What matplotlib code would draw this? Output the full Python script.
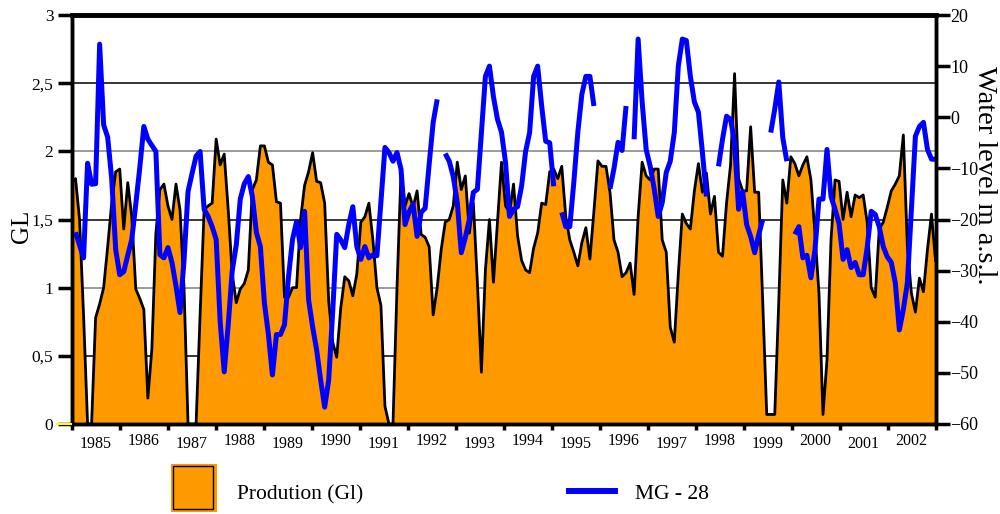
import numpy as np
import matplotlib.pyplot as plt
import matplotlib.transforms as mtransforms
from matplotlib.patches import Rectangle
from matplotlib.lines import Line2D

plt.rcParams['font.family'] = ['Liberation Serif', 'DejaVu Serif']

# monthly production (GL), Jan 1985 - Dec 2002
years = list(range(1985, 2003))
production = [
    1.77, 1.80, 1.50, 0.80, 0.00, 0.00, 0.78, 0.88, 1.00, 1.30, 1.62, 1.85,  # 1985
    1.87, 1.43, 1.77, 1.52, 0.99, 0.92, 0.84, 0.19, 0.55, 1.40, 1.72, 1.76,  # 1986
    1.60, 1.50, 1.76, 1.57, 1.00, 0.00, 0.00, 0.00, 0.80, 1.57, 1.60, 1.62,  # 1987
    2.09, 1.90, 1.98, 1.57, 1.10, 0.89, 0.99, 1.03, 1.13, 1.72, 1.79, 2.04,  # 1988
    2.04, 1.92, 1.90, 1.63, 1.62, 0.93, 0.93, 1.00, 1.00, 1.50, 1.75, 1.85,  # 1989
    1.99, 1.78, 1.77, 1.62, 0.90, 0.60, 0.49, 0.85, 1.08, 1.05, 0.94, 1.10,  # 1990
    1.48, 1.52, 1.62, 1.35, 1.00, 0.87, 0.13, 0.00, 0.00, 1.00, 1.85, 1.60,  # 1991
    1.69, 1.59, 1.71, 1.39, 1.37, 1.30, 0.80, 1.00, 1.28, 1.48, 1.50, 1.60,  # 1992
    1.92, 1.72, 1.82, 1.40, 1.62, 1.04, 0.38, 1.13, 1.50, 1.04, 1.48, 1.92,  # 1993
    1.60, 1.55, 1.76, 1.38, 1.20, 1.13, 1.11, 1.29, 1.40, 1.62, 1.61, 1.85,  # 1994
    1.87, 1.80, 1.89, 1.52, 1.35, 1.26, 1.16, 1.33, 1.44, 1.21, 1.56, 1.93,  # 1995
    1.89, 1.89, 1.70, 1.35, 1.26, 1.08, 1.11, 1.18, 0.95, 1.52, 1.92, 1.82,  # 1996
    1.79, 1.87, 1.87, 1.35, 1.26, 0.71, 0.60, 1.10, 1.54, 1.47, 1.43, 1.71,  # 1997
    1.91, 1.70, 1.84, 1.54, 1.67, 1.26, 1.23, 1.62, 1.90, 2.57, 1.80, 1.71,  # 1998
    1.71, 2.18, 1.70, 1.70, 0.90, 0.07, 0.07, 0.07, 0.90, 1.79, 1.62, 1.96,  # 1999
    1.91, 1.82, 1.90, 1.96, 1.79, 1.40, 0.96, 0.07, 0.47, 1.35, 1.79, 1.78,  # 2000
    1.50, 1.70, 1.52, 1.68, 1.66, 1.68, 1.48, 1.00, 0.93, 1.43, 1.48, 1.59,  # 2001
    1.71, 1.76, 1.82, 2.12, 1.30, 0.96, 0.82, 1.07, 0.97, 1.28, 1.54, 1.20,  # 2002
]

# water level MG-28 (m a.s.l.), None = no reading
water_level = [
    None, -22.5, -25.0, -27.5, -9.0, -13.1, -13.0, 14.3, -1.5, -3.9, -12.0, -25.9,
    -30.8, -30.2, -27.0, -23.9, -17.0, -9.8, -1.8, -4.3, -5.5, -6.7, -26.9, -27.5,
    -25.5, -28.4, -33.0, -38.2, -28.0, -14.5, -11.0, -7.6, -6.7, -18.0, -19.4, -21.4,
    -23.9, -40.0, -49.8, -40.6, -30.0, -25.0, -16.0, -13.0, -11.6, -15.5, -22.5, -25.3,
    -36.3, -42.5, -50.4, -42.5, -42.5, -40.6, -31.2, -23.9, -20.4, -25.5, -18.4, -35.7,
    -41.0, -45.5, -51.4, -56.7, -51.4, -38.0, -22.9, -24.0, -25.5, -21.0, -17.5, -25.3,
    -27.8, -25.3, -27.5, -26.9, -27.1, -16.5, -5.9, -6.9, -8.6, -6.9, -10.2, -21.0,
    -18.5, -17.0, -23.3, -18.6, -17.8, -9.2, -1.0, 3.5, None, -7.1, -8.6, -11.6,
    -16.7, -26.5, -23.5, -20.0, -14.7, -14.1, -2.9, 8.0, 10.0, 4.0, -0.4, -2.9,
    -8.8, -19.4, -18.0, -17.5, -13.5, -6.7, -3.0, 8.0, 10.0, 2.2, -4.7, -5.0,
    -13.5, None, -18.6, -21.4, -21.4, -12.7, -2.9, 4.5, 8.0, 8.0, 2.2, None,
    None, None, -14.0, -10.0, -4.9, -6.5, 2.2, None, -4.3, 15.3, 3.0, -6.3,
    -9.6, -14.0, -19.4, -16.7, -10.8, -8.6, -3.0, 10.0, 15.3, 15.0, 8.0, 3.0,
    1.0, -6.9, -15.5, None, None, -9.6, -4.3, 0.2, -0.4, -4.9, -18.0, -14.5,
    -21.0, -23.3, -26.5, -23.0, -20.0, None, -3.0, 1.6, 6.9, -4.0, -8.6, None,
    -22.9, -21.4, -27.5, -27.0, -31.4, -26.0, -16.0, -16.0, -6.3, -15.5, -18.0, -20.8,
    -27.8, -25.9, -29.4, -28.4, -30.8, -30.8, -25.5, -18.4, -19.0, -21.4, -25.3, -27.3,
    -28.4, -32.4, -41.6, -37.6, -32.4, -18.0, -3.7, -1.8, -1.0, -6.3, -8.2, -8.2,
]

gl_ticks = [0, 0.5, 1, 1.5, 2, 2.5, 3]
gl_labels = ['0', '0,5', '1', '1,5', '2', '2,5', '3']
wl_ticks = list(range(-60, 21, 10))

t = np.linspace(1985, 2003, len(production))
wl = np.array([np.nan if v is None else v for v in water_level])

fig = plt.figure(figsize=(10, 5.14), dpi=100)
ax = fig.add_axes([0.0715, 0.1751, 0.864, 0.7957])
ax2 = ax.twinx()

# horizontal grid, alternating black / grey
for g in gl_ticks[1:-1]:
    col = 'black' if g in (0.5, 1.5, 2.5) else '#808080'
    ax.axhline(g, color=col, lw=1.1, zorder=0)

ax.fill_between(t, production, 0, color='#ff9900', lw=0, zorder=2)
ax.plot(t, production, color='black', lw=2.0, zorder=3)

ax2.plot(t, wl, color='#0000ff', lw=3.6, solid_capstyle='butt')

ax.set_xlim(1985, 2003)
ax.set_ylim(0, 3)
ax2.set_ylim(-60, 20)

ax.set_xticks(range(1985, 2004))
ax.set_xticklabels([])
ax.tick_params(axis='x', direction='out', length=4, width=2.5)
ax.set_yticks(gl_ticks, gl_labels)
ax.tick_params(axis='y', direction='out', length=10, width=2.5, labelsize=12.5, pad=3)
ax2.set_yticks(wl_ticks)
ax2.tick_params(axis='y', direction='out', length=10, width=2.5, labelsize=13, pad=0.5)

for a in (ax, ax2):
    for s in a.spines.values():
        s.set_linewidth(2.5)
ax2.spines['top'].set_linewidth(3.5)

# year labels, slightly staggered
trans = mtransforms.blended_transform_factory(ax.transData, ax.transAxes)
for y in years:
    yy = -0.042 if y % 2 == 0 else -0.049
    ax.text(y + 0.5, yy, str(y), transform=trans, ha='center', va='center',
            fontsize=11.5)

fig.text(0.022, 0.56, 'GL', rotation=90, ha='center', va='center', fontsize=18)
fig.text(0.984, 0.66, 'Water level m a.s.l.', rotation=270, ha='center',
         va='center', fontsize=20.5)

# small yellow mark at the origin
fig.add_artist(Line2D([0.057, 0.071], [0.1751, 0.1751], color='#ffff00', lw=1.5))

# legend
fig.add_artist(Rectangle((0.171, 0.004), 0.046, 0.093, facecolor='#ff9900',
                         edgecolor='none'))
fig.add_artist(Rectangle((0.173, 0.0097), 0.040, 0.084, facecolor='#ff9900',
                         edgecolor='black', lw=1))
fig.text(0.237, 0.038, 'Prodution (Gl)', ha='left', va='center', fontsize=15.5)
fig.add_artist(Line2D([0.569, 0.615], [0.0447, 0.0447], color='#0000ff', lw=4.3))
fig.text(0.635, 0.038, 'MG - 28', ha='left', va='center', fontsize=15.5)

fig.savefig('out.png', dpi=100)
